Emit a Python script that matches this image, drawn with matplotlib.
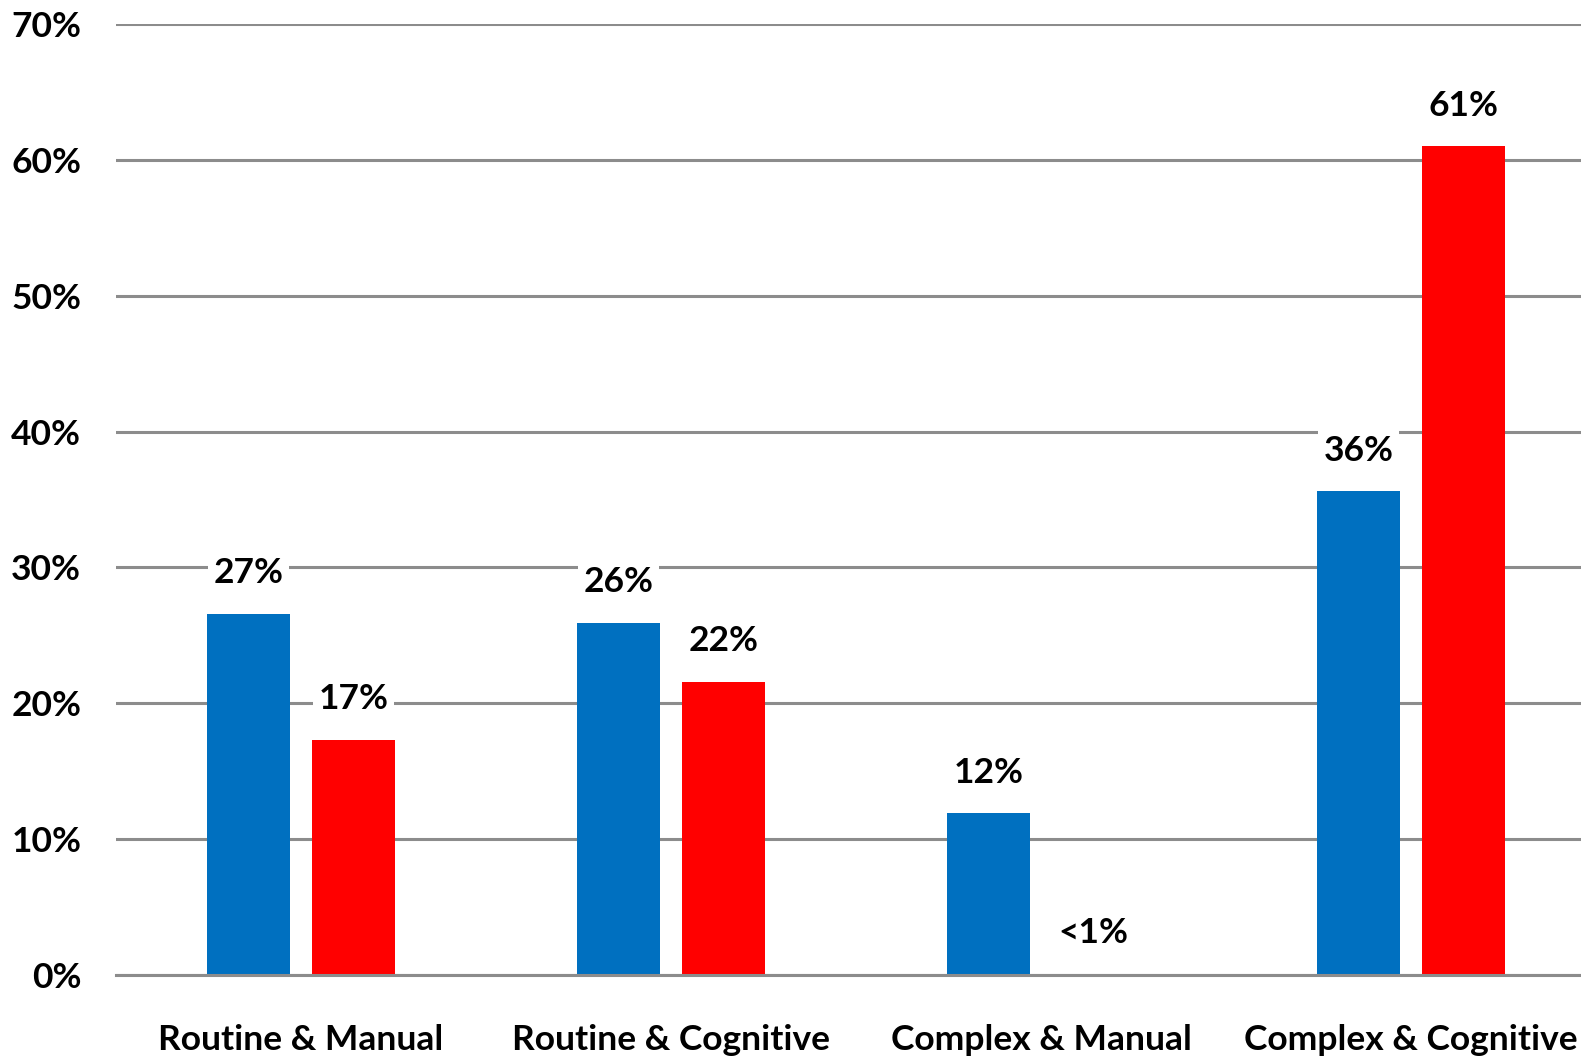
from matplotlib import pyplot as plt
import numpy as np

# Catégories et valeurs (en %)
categories = ["Routine & Manual", "Routine & Cognitive", "Complex & Manual", "Complex & Cognitive"]
serie_bleue = [26.6, 25.9, 11.9, 35.6]
serie_rouge = [17.3, 21.6, 0.1, 61.0]
yticks = [0, 10, 20, 30, 40, 50, 60, 70]

BLEU = "#0070C0"
ROUGE = "#FF0000"
GRIS = "#8C8C8C"
police = ["Lato", "DejaVu Sans"]


def etiquette(v):
    return "<1%" if v < 1 else f"{int(v + 0.5)}%"


def trace():
    plt.rcParams["font.family"] = police
    plt.rcParams["font.weight"] = "bold"
    fig = plt.figure(figsize=(15.81, 10.64), dpi=100)
    # axe qui déborde légèrement à droite de la figure
    ax = fig.add_axes([116 / 1581, 1 - 975 / 1064, 1480 / 1581, (975 - 24) / 1064])

    x = np.arange(len(categories))
    w = 0.2234
    dx = 0.1417
    ax.bar(x - dx, serie_bleue, w, color=BLEU, zorder=3)
    ax.bar(x + dx, serie_rouge, w, color=ROUGE, zorder=3)

    # étiquettes de valeurs sur fond blanc (coupent le quadrillage)
    for xs, serie in ((x - dx, serie_bleue), (x + dx, serie_rouge)):
        for xi, v in zip(xs, serie):
            ax.text(xi, v + 3.0, etiquette(v), ha="center", va="center", fontsize=25.5,
                    fontweight="bold", zorder=4,
                    bbox=dict(facecolor="white", edgecolor="none", pad=4))

    ax.set_xlim(-0.5, 3.5)
    ax.set_ylim(0, 70)
    ax.set_yticks(yticks)
    ax.set_yticklabels([f"{t}%" for t in yticks], fontsize=25.5, fontweight="bold")
    ax.set_xticks(x)
    ax.set_xticklabels(categories, fontsize=25.5, fontweight="bold")
    ax.tick_params(axis="y", length=0, pad=25)
    ax.tick_params(axis="x", length=0, pad=35)
    ax.grid(axis="y", color=GRIS, linewidth=2.2, zorder=1)
    ax.set_axisbelow(True)
    for s in ["top", "right", "left"]:
        ax.spines[s].set_visible(False)
    ax.spines["bottom"].set_color(GRIS)
    ax.spines["bottom"].set_linewidth(2.2)
    ax.spines["bottom"].set_zorder(3.5)

    fig.savefig("out.png", dpi=100)


if __name__ == "__main__":
    trace()
